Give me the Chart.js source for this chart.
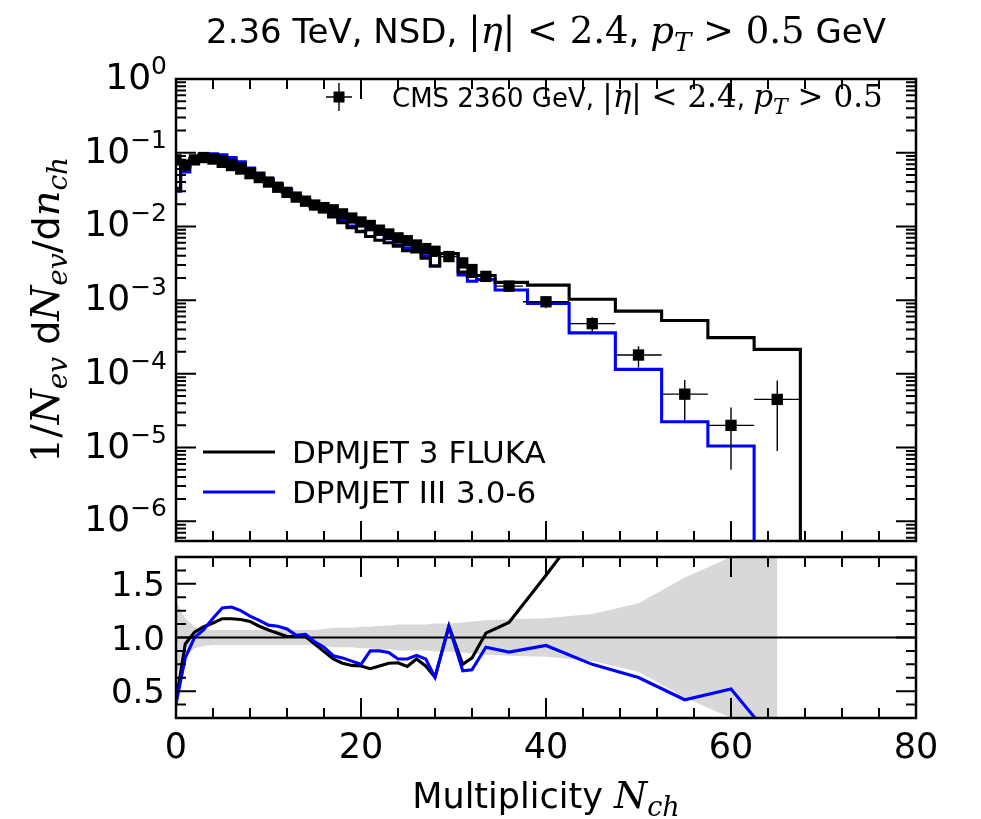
<!DOCTYPE html>
<html>
<head>
<meta charset="utf-8">
<script src="https://cdn.jsdelivr.net/npm/chart.js@4.4.0/dist/chart.umd.min.js"></script>
<style>
  html, body { margin: 0; padding: 0; background: #fff; }
  #wrap { position: relative; width: 981px; height: 819px; }
  canvas { position: absolute; left: 0; top: 0; }
</style>
</head>
<body>
<div id="wrap">
  <canvas id="ratio" width="981" height="819"></canvas>
  <canvas id="main" width="981" height="819"></canvas>
</div>
<script>
// CMS 2.36 TeV charged multiplicity
const dataX = [0,1,2,3,4,5,6,7,8,9,10,11,12,13,14,15,16,17,18,19,20,21,22,23,24,25,26,27,28,
  29.5,31,32,33.5,36,40,45,50,55,60,65];
const dataLo = [-0.5,0.5,1.5,2.5,3.5,4.5,5.5,6.5,7.5,8.5,9.5,10.5,11.5,12.5,13.5,14.5,15.5,16.5,17.5,18.5,
  19.5,20.5,21.5,22.5,23.5,24.5,25.5,26.5,27.5,28.5,30.5,31.5,32.5,34.5,37.5,42.5,47.5,52.5,57.5,62.5];
const dataHi = [0.5,1.5,2.5,3.5,4.5,5.5,6.5,7.5,8.5,9.5,10.5,11.5,12.5,13.5,14.5,15.5,16.5,17.5,18.5,19.5,
  20.5,21.5,22.5,23.5,24.5,25.5,26.5,27.5,28.5,30.5,31.5,32.5,34.5,37.5,42.5,47.5,52.5,57.5,62.5,67.5];
const dataY = [0.080,0.068,0.080,0.086,0.082,0.074,0.067,0.060,0.052,0.046,
  0.040,0.034,0.029,0.025,0.022,0.0195,0.0180,0.0168,0.0148,0.0130,
  0.0115,0.0103,0.0089,0.0079,0.0070,0.0064,0.0056,0.0050,0.0046,
  0.0039,0.0032,0.0026,0.0021,0.00155,0.00095,0.00048,0.00018,5.3e-5,2.0e-5,4.5e-5];
// relative uncertainty of the data (grey band in the ratio)
const dataRelErr = [0.34,0.18,0.10,0.08,0.07,0.07,0.07,0.07,0.07,0.07,
  0.07,0.07,0.07,0.07,0.07,0.07,0.08,0.09,0.09,0.09,
  0.10,0.10,0.11,0.11,0.12,0.12,0.12,0.12,0.13,
  0.13,0.14,0.15,0.16,0.17,0.18,0.22,0.32,0.56,0.75,0.80];

// MC histogram bin edges
const mcEdges = [-0.5,0.5,1.5,2.5,3.5,4.5,5.5,6.5,7.5,8.5,9.5,10.5,11.5,12.5,13.5,14.5,15.5,16.5,17.5,18.5,
  19.5,20.5,21.5,22.5,23.5,24.5,25.5,26.5,27.5,28.5,30.5,31.5,32.5,34.5,38,42.5,47.5,52.5,57.5,62.5,67.5];
const fluka = [0.033,0.064,0.084,0.095,0.093,0.087,0.079,0.070,0.060,0.051,
  0.043,0.035,0.029,0.025,0.022,0.0183,0.0157,0.0134,0.0112,0.0096,
  0.0085,0.0073,0.0065,0.0060,0.0054,0.0047,0.0045,0.0037,0.0029,
  0.0043,0.0024,0.0021,0.00216,0.00174,0.0016,0.00103,0.00071,0.00053,0.00031,0.000215];
const dpmjet3 = [0.030,0.055,0.080,0.092,0.097,0.094,0.086,0.075,0.062,0.053,
  0.0446,0.0376,0.0313,0.0255,0.0227,0.0187,0.0164,0.0139,0.0120,0.0101,
  0.0086,0.0090,0.0078,0.0068,0.0056,0.0051,0.0047,0.0040,0.0029,
  0.0043,0.0022,0.0018,0.0019,0.00137,0.00090,0.00036,0.000115,0.0000224,0.0000105];

// MC / data at the data points
const flukaRatio = [0.41,0.94,1.05,1.10,1.135,1.175,1.175,1.167,1.15,1.105,
  1.07,1.04,1.01,1.01,1.01,0.94,0.87,0.80,0.76,0.74,
  0.735,0.71,0.735,0.76,0.765,0.73,0.80,0.735,0.63,
  1.105,0.75,0.81,1.04,1.14,1.58,2.15,3.9,10,15,4.8];
const dpmjet3Ratio = [0.38,0.81,1.0,1.074,1.18,1.275,1.284,1.25,1.2,1.16,
  1.115,1.105,1.08,1.02,1.03,0.96,0.91,0.83,0.81,0.78,
  0.75,0.875,0.875,0.86,0.80,0.80,0.833,0.80,0.63,
  1.105,0.69,0.70,0.91,0.864,0.926,0.75,0.627,0.42,0.52,0];

const xTicks = [0, 20, 40, 60, 80];
const mainDecades = [0, -1, -2, -3, -4, -5, -6];
const ratioTicks = [0.5, 1.0, 1.5];

const X_MIN = 0, X_MAX = 80;
const Y_MIN = 5.4e-7, Y_MAX = 1, Y_FLOOR = 1e-9;
const R_MIN = 0.25, R_MAX = 1.75;

const SANS = '"DejaVu Sans", sans-serif';
const SERIF = '"DejaVu Serif", serif';
const BLUE = '#0000ff';
const LINE_W = 3.1;

function R(text, size, fam, style, dy) {
  return { text, font: (style || 'normal') + ' ' + size + 'px ' + fam, dy: dy || 0 };
}
function richWidth(ctx, runs) {
  let w = 0;
  runs.forEach(r => { ctx.font = r.font; w += ctx.measureText(r.text).width; });
  return w;
}
function drawRich(ctx, runs, x, y, align) {
  const w = richWidth(ctx, runs);
  let cx = align === 'center' ? x - w / 2 : align === 'right' ? x - w : x;
  ctx.textAlign = 'left';
  ctx.textBaseline = 'alphabetic';
  runs.forEach(r => {
    ctx.font = r.font;
    ctx.fillText(r.text, cx, y + r.dy);
    cx += ctx.measureText(r.text).width;
  });
}

// "|eta| < 2.4, p_T > 0.5" in math style, size s for text, m for the maths
function etaPtRuns(s, m) {
  const sub = Math.round(m * 0.7);
  return [
    R('|', m, SERIF), R('\u03b7', m, SERIF, 'italic'), R('|', m, SERIF),
    R(' < ', m, SERIF), R('2.4', m, SERIF), R(', ', s, SANS), R('p', m, SERIF, 'italic'),
    R('T', sub, SERIF, 'italic', Math.round(m * 0.22)), R(' > ', m, SERIF), R('0.5', m, SERIF)
  ];
}

function stepPoints(edges, vals) {
  const pts = vals.map((v, i) => ({ x: edges[i], y: v }));
  const n = vals.length;
  pts.push({ x: edges[n], y: vals[n - 1] });
  pts.push({ x: edges[n], y: Y_FLOOR });
  return pts;
}

// inward ticks on all four sides
function drawTicks(ctx, chart, xMaj, xMin, yMaj, yMin) {
  const a = chart.chartArea, xs = chart.scales.x, ys = chart.scales.y;
  const MAJ = 20, MIN = 10;
  ctx.save();
  ctx.strokeStyle = '#000';
  ctx.lineWidth = 2;
  ctx.beginPath();
  const vx = (v, len) => {
    const p = xs.getPixelForValue(v);
    ctx.moveTo(p, a.bottom); ctx.lineTo(p, a.bottom - len);
    ctx.moveTo(p, a.top); ctx.lineTo(p, a.top + len);
  };
  const hy = (v, len) => {
    const p = ys.getPixelForValue(v);
    ctx.moveTo(a.left, p); ctx.lineTo(a.left + len, p);
    ctx.moveTo(a.right, p); ctx.lineTo(a.right - len, p);
  };
  xMaj.forEach(v => vx(v, MAJ));
  xMin.forEach(v => vx(v, MIN));
  yMaj.forEach(v => hy(v, MAJ));
  yMin.forEach(v => hy(v, MIN));
  ctx.stroke();
  ctx.lineWidth = 2.5;
  ctx.strokeRect(a.left, a.top, a.right - a.left, a.bottom - a.top);
  ctx.restore();
}

const xMinorTicks = [];
for (let v = X_MIN; v <= X_MAX; v += 4) if (v % 20 !== 0) xMinorTicks.push(v);

const mainMajor = mainDecades.map(k => Math.pow(10, k));
const mainMinor = [];
for (let k = -7; k < 0; k++) for (let m = 2; m <= 9; m++) {
  const v = m * Math.pow(10, k);
  if (v > Y_MIN && v < Y_MAX) mainMinor.push(v);
}
const ratioMinor = [];
for (let v = R_MIN; v <= R_MAX + 1e-9; v += 0.125) {
  if (Math.abs(v * 2 - Math.round(v * 2)) > 1e-6) ratioMinor.push(v);
}

const mainDecor = {
  id: 'mainDecor',
  afterDatasetsDraw(chart) {
    const ctx = chart.ctx, a = chart.chartArea, xs = chart.scales.x, ys = chart.scales.y;
    ctx.save();
    ctx.beginPath();
    ctx.rect(a.left, a.top, a.right - a.left, a.bottom - a.top);
    ctx.clip();
    ctx.strokeStyle = '#000';
    ctx.lineWidth = 1.4;
    ctx.beginPath();
    dataY.forEach((v, i) => {
      const py = ys.getPixelForValue(v);
      ctx.moveTo(xs.getPixelForValue(dataLo[i]), py);
      ctx.lineTo(xs.getPixelForValue(dataHi[i]), py);
      const px = xs.getPixelForValue(dataX[i]);
      ctx.moveTo(px, ys.getPixelForValue(v * (1 + dataRelErr[i])));
      ctx.lineTo(px, ys.getPixelForValue(v * (1 - dataRelErr[i])));
    });
    ctx.stroke();
    ctx.restore();
  },
  afterDraw(chart) {
    const ctx = chart.ctx, a = chart.chartArea, ys = chart.scales.y;
    drawTicks(ctx, chart, xTicks, xMinorTicks, mainMajor, mainMinor);
    ctx.save();
    ctx.fillStyle = '#000';

    // y tick labels 10^k
    mainDecades.forEach(k => {
      const py = ys.getPixelForValue(Math.pow(10, k));
      const sup = k === 0 ? '0' : '\u2212' + (-k);
      drawRich(ctx, [R('10', 36, SANS), R(sup, 25, SANS, 'normal', -15)], 167, py + 10, 'right');
    });

    // title
    drawRich(ctx, [R('2.36 TeV, NSD, ', 34, SANS)].concat(etaPtRuns(34, 37), [R(' GeV', 34, SANS)]),
      (a.left + a.right) / 2, 43, 'center');

    // y axis title
    ctx.save();
    ctx.translate(47, (a.top + a.bottom) / 2);
    ctx.rotate(-Math.PI / 2);
    drawRich(ctx, [
      R('1/', 40, SERIF), R('N', 40, SERIF, 'italic'), R('ev', 28, SERIF, 'italic', 8),
      R(' d', 38, SANS), R('N', 40, SERIF, 'italic'), R('ev', 28, SERIF, 'italic', 8),
      R('/d', 38, SANS), R('n', 40, SERIF, 'italic'), R('ch', 28, SERIF, 'italic', 8)
    ], 0, 12, 'center');
    ctx.restore();

    // data legend, top right
    ctx.strokeStyle = '#000';
    ctx.lineWidth = 1.4;
    ctx.beginPath();
    ctx.moveTo(339, 83); ctx.lineTo(339, 111);
    ctx.moveTo(326, 97); ctx.lineTo(352, 97);
    ctx.stroke();
    ctx.fillRect(333.5, 91.5, 11, 11);
    drawRich(ctx, [R('CMS 2360 GeV, ', 26, SANS)].concat(etaPtRuns(26, 31)), 392, 107, 'left');

    // MC legend, bottom left
    ctx.lineWidth = LINE_W;
    [['DPMJET 3 FLUKA', '#000', 452], ['DPMJET III 3.0-6', BLUE, 492]].forEach(([label, col, y]) => {
      ctx.strokeStyle = col;
      ctx.beginPath();
      ctx.moveTo(203, y); ctx.lineTo(275, y);
      ctx.stroke();
      drawRich(ctx, [R(label, 31, SANS)], 292, y + 11, 'left');
    });
    ctx.restore();
  }
};

const ratioDecor = {
  id: 'ratioDecor',
  afterDraw(chart) {
    const ctx = chart.ctx, a = chart.chartArea, xs = chart.scales.x, ys = chart.scales.y;
    drawTicks(ctx, chart, xTicks, xMinorTicks, ratioTicks, ratioMinor);
    ctx.save();
    ctx.fillStyle = '#000';
    xTicks.forEach(v => {
      drawRich(ctx, [R(String(v), 35, SANS)], xs.getPixelForValue(v), 758, 'center');
    });
    ratioTicks.forEach(v => {
      drawRich(ctx, [R(v.toFixed(1), 34, SANS)], 165, ys.getPixelForValue(v) + 12, 'right');
    });
    drawRich(ctx, [
      R('Multiplicity ', 35, SANS), R('N', 38, SERIF, 'italic'), R('ch', 27, SERIF, 'italic', 8)
    ], (a.left + a.right) / 2, 808, 'center');
    ctx.restore();
  }
};

const hiddenX = { type: 'linear', min: X_MIN, max: X_MAX, display: false };

new Chart(document.getElementById('main'), {
  type: 'scatter',
  data: {
    datasets: [
      {
        label: 'CMS 2360 GeV',
        data: dataX.map((x, i) => ({ x, y: dataY[i] })),
        pointStyle: 'rect', pointRadius: 8, backgroundColor: '#000', borderWidth: 0, clip: 0
      },
      {
        label: 'DPMJET 3 FLUKA',
        data: stepPoints(mcEdges, fluka),
        showLine: true, stepped: 'before', borderColor: '#000', borderWidth: LINE_W, pointRadius: 0, clip: 0
      },
      {
        label: 'DPMJET III 3.0-6',
        data: stepPoints(mcEdges, dpmjet3),
        showLine: true, stepped: 'before', borderColor: BLUE, borderWidth: LINE_W, pointRadius: 0, clip: 0
      }
    ]
  },
  options: {
    responsive: false, animation: false, devicePixelRatio: 1,
    layout: { padding: { left: 176, right: 65, top: 79, bottom: 278 } },
    scales: {
      x: hiddenX,
      y: { type: 'logarithmic', min: Y_MIN, max: Y_MAX, display: false }
    },
    plugins: { legend: { display: false }, tooltip: { enabled: false } },
    events: []
  },
  plugins: [mainDecor]
});

new Chart(document.getElementById('ratio'), {
  type: 'scatter',
  data: {
    datasets: [
      {
        label: 'DPMJET III 3.0-6',
        data: dataX.map((x, i) => ({ x, y: dpmjet3Ratio[i] })),
        showLine: true, borderColor: BLUE, borderWidth: LINE_W, pointRadius: 0, clip: 0
      },
      {
        label: 'DPMJET 3 FLUKA',
        data: dataX.map((x, i) => ({ x, y: flukaRatio[i] })),
        showLine: true, borderColor: '#000', borderWidth: LINE_W, pointRadius: 0, clip: 0
      },
      {
        label: 'unity',
        data: [{ x: X_MIN, y: 1 }, { x: X_MAX, y: 1 }],
        showLine: true, borderColor: '#000', borderWidth: 2.2, pointRadius: 0, clip: 0
      },
      {
        label: 'band up',
        data: dataX.map((x, i) => ({ x, y: 1 + dataRelErr[i] })),
        showLine: true, borderWidth: 0, borderColor: 'rgba(0,0,0,0)', pointRadius: 0,
        fill: '+1', backgroundColor: '#d8d8d8', clip: 0
      },
      {
        label: 'band down',
        data: dataX.map((x, i) => ({ x, y: 1 - dataRelErr[i] })),
        showLine: true, borderWidth: 0, borderColor: 'rgba(0,0,0,0)', pointRadius: 0, clip: 0
      }
    ]
  },
  options: {
    responsive: false, animation: false, devicePixelRatio: 1,
    layout: { padding: { left: 176, right: 65, top: 557, bottom: 101 } },
    scales: {
      x: hiddenX,
      y: { type: 'linear', min: R_MIN, max: R_MAX, display: false }
    },
    plugins: { legend: { display: false }, tooltip: { enabled: false } },
    events: []
  },
  plugins: [ratioDecor]
});
</script>
</body>
</html>
